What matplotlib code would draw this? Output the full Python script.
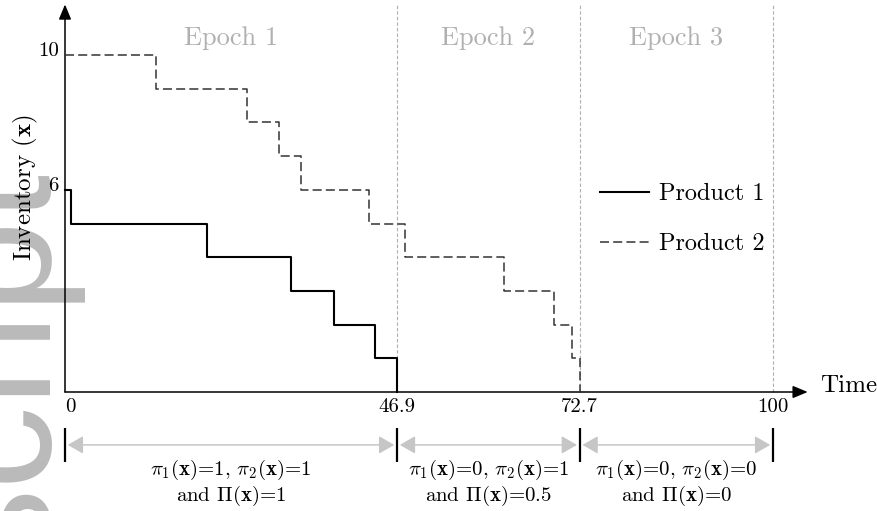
import numpy as np
import matplotlib
matplotlib.use("Agg")
from matplotlib import pyplot as plt

plt.rcParams['font.family'] = 'serif'
plt.rcParams['font.serif'] = ['cmr10']
plt.rcParams['mathtext.fontset'] = 'cm'
plt.rcParams['axes.unicode_minus'] = False
plt.rcParams['axes.formatter.use_mathtext'] = True
plt.rcParams['lines.scale_dashes'] = False

## data

epoch_ends   = [46.9, 72.7, 100]
epoch_names  = ['Epoch 1', 'Epoch 2', 'Epoch 3']
xtick_vals   = [0, 46.9, 72.7, 100]
xtick_labels = ['0', '46.9', '72.7', '100']
ytick_vals   = [10, 6]

p1_t   = [0, 0.85, 20.1, 31.9, 38.0, 43.8, 46.9]
p1_inv = [6, 5, 4, 3, 2, 1, 0]
p2_t   = [0, 12.8, 25.7, 30.2, 33.3, 42.9, 48.0, 62.0, 69.1, 71.6, 72.7]
p2_inv = [10, 9, 8, 7, 6, 5, 4, 3, 2, 1, 0]

policy_text = [r'$\pi_1(\mathbf{x})$=1, $\pi_2(\mathbf{x})$=1' + '\n' + r'and $\Pi(\mathbf{x})$=1',
               r'$\pi_1(\mathbf{x})$=0, $\pi_2(\mathbf{x})$=1' + '\n' + r'and $\Pi(\mathbf{x})$=0.5',
               r'$\pi_1(\mathbf{x})$=0, $\pi_2(\mathbf{x})$=0' + '\n' + r'and $\Pi(\mathbf{x})$=0']

## figure: one axes over the whole canvas, axis drawn by hand

W, H = 878, 511
fig = plt.figure(figsize=(W/100, H/100), dpi=100)
ax  = fig.add_axes([0, 0, 1, 1])
x0, sx = 65.0, 7.08          # pixel of t=0, px per time unit
y0, sy = 392.0, 33.7         # pixel of inv=0, px per unit
ax.set_xlim(-x0/sx, (W - x0)/sx)
ax.set_ylim(-(H - y0)/sy, y0/sy)
ax.axis('off')

ymax = 11.48
grey = '#b0b0b0'

# watermark, drawn under everything else
ax.text(46/W, -0.11, 'script', family='Liberation Sans', fontsize=120,
        color='#bababa', rotation=90, rotation_mode='anchor',
        ha='left', va='baseline', transform=fig.transFigure, zorder=0,
        clip_on=False)

# epoch separators
ax.vlines(epoch_ends, 0, ymax, colors=grey, lw=0.8, linestyles=(0, (2.5, 1.5)), zorder=1)

# axes with arrows
arr = dict(arrowstyle='-|>,head_length=0.6,head_width=0.25', color='k', lw=1.1,
           mutation_scale=15, shrinkA=0, shrinkB=0)
ax.annotate('', xy=(0, 11.5), xytext=(0, 0), arrowprops=arr, zorder=2)
ax.annotate('', xy=(104.9, 0), xytext=(0, 0), arrowprops=arr, zorder=2)
ax.text(106.6, 0, 'Time', fontsize=18, ha='left', va='baseline', zorder=2)
ax.text(-5.65, 6.05, r'Inventory ($\mathbf{x}$)', fontsize=18, rotation=90,
        ha='center', va='center', zorder=2)

# ticks
for v in ytick_vals:
    ax.text(-0.9, v + 0.12, str(v), fontsize=15, ha='right', va='center', zorder=2)
for v, lab in zip(xtick_vals, xtick_labels):
    ax.text(v, -0.45, lab, fontsize=15, ha='left' if v == 0 else 'center',
            va='center', zorder=2)

# inventory curves
ax.step(p1_t, p1_inv, where='post', color='k', lw=1.5, label='Product 1', zorder=3)
ax.step(p2_t, p2_inv, where='post', color='#333333', lw=1.1, dashes=(6.5, 3),
        label='Product 2', zorder=3)

# epoch labels
starts = [0] + epoch_ends[:-1]
for a, b, name in zip(starts, epoch_ends, epoch_names):
    ax.text((a + b)/2, 10.5, name, fontsize=19, color=grey, ha='center', va='center')

# bottom policy annotations
bounds = [0] + epoch_ends
ax.vlines(bounds, -2.08, -1.07, colors='k', lw=1.6, zorder=2)
garr = dict(arrowstyle='<|-|>,head_length=0.52,head_width=0.3', color='#c6c6c6',
            lw=1.1, mutation_scale=18, shrinkA=2, shrinkB=2)
for a, b, txt in zip(starts, epoch_ends, policy_text):
    ax.annotate('', xy=(b, -1.57), xytext=(a, -1.57), arrowprops=garr, zorder=2)
    ax.text((a + b)/2, -2.70, txt, fontsize=15, ha='center', va='center',
            linespacing=1.1, zorder=2)

ax.legend(loc='center left', bbox_to_anchor=(600/W, 1 - 219/H), frameon=False,
          fontsize=17.5, handlelength=2.0, handletextpad=0.42, labelspacing=1.15,
          borderpad=0, borderaxespad=0)

fig.savefig('out.png', dpi=100)
